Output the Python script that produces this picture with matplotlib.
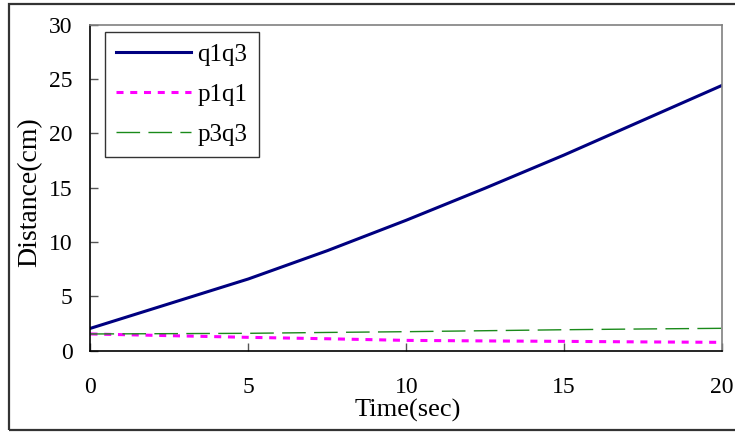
import matplotlib
matplotlib.use("Agg")
import matplotlib.pyplot as plt
from matplotlib.patches import Rectangle

# time (sec) and distances (cm)
t = [0, 5, 7.5, 10, 12.5, 15, 17.5, 20]
q1q3 = [2.06, 6.6, 9.2, 12.0, 14.95, 18.0, 21.2, 24.4]
p1q1 = [1.54, 1.23, 1.1, 0.95, 0.9, 0.86, 0.81, 0.77]
p3q3 = [1.54, 1.6, 1.68, 1.75, 1.84, 1.93, 2.0, 2.06]

xticks = [0, 5, 10, 15, 20]
yticks = [0, 5, 10, 15, 20, 25, 30]

plt.rcParams['font.family'] = ['Liberation Serif', 'DejaVu Serif']

fig = plt.figure(figsize=(7.35, 4.34), dpi=100)
ax = fig.add_axes([0.1231, 0.1919, 0.8592, 0.7516])

ax.plot(t, q1q3, color='#000080', lw=2.2, label='q1q3')
ax.plot(t, p1q1, color='#ff00ff', lw=2.2, linestyle=(0, (2.3, 2.2)), label='p1q1')
ax.plot(t, p3q3, color='#1a8a1a', lw=1.0, linestyle=(0, (17, 6)), label='p3q3')

ax.set_xlim(0, 20)
ax.set_ylim(0, 30)
ax.set_xticks(xticks)
ax.set_yticks(yticks)
ax.tick_params(axis='both', direction='in', length=6, width=1, colors='#555555',
               labelcolor='black', labelsize=17)
ax.tick_params(axis='x', pad=19)
ax.tick_params(axis='y', pad=13)

for side in ['left', 'bottom']:
    ax.spines[side].set_color('black')
    ax.spines[side].set_linewidth(1.2)
for side in ['top', 'right']:
    ax.spines[side].set_color('#808080')
    ax.spines[side].set_linewidth(1.2)

ax.set_xlabel('Time(sec)', fontsize=19)
ax.set_ylabel('Distance(cm)', fontsize=20)
ax.xaxis.set_label_coords(0.502, -0.148)
ax.yaxis.set_label_coords(-0.077, 0.487)

leg = ax.legend(loc='upper left', bbox_to_anchor=(0.023, 0.976), borderaxespad=0,
                fontsize=18, frameon=True, fancybox=False, edgecolor='black',
                handlelength=3.0, handletextpad=0.25, labelspacing=0.7,
                borderpad=0.45)
leg.get_frame().set_linewidth(1.0)

fig.patches.append(Rectangle((9 / 735, 4 / 434), 740 / 735, 426 / 434,
                             transform=fig.transFigure, fill=False,
                             edgecolor='#333333', lw=1.6))

fig.savefig('out.png', dpi=100)
